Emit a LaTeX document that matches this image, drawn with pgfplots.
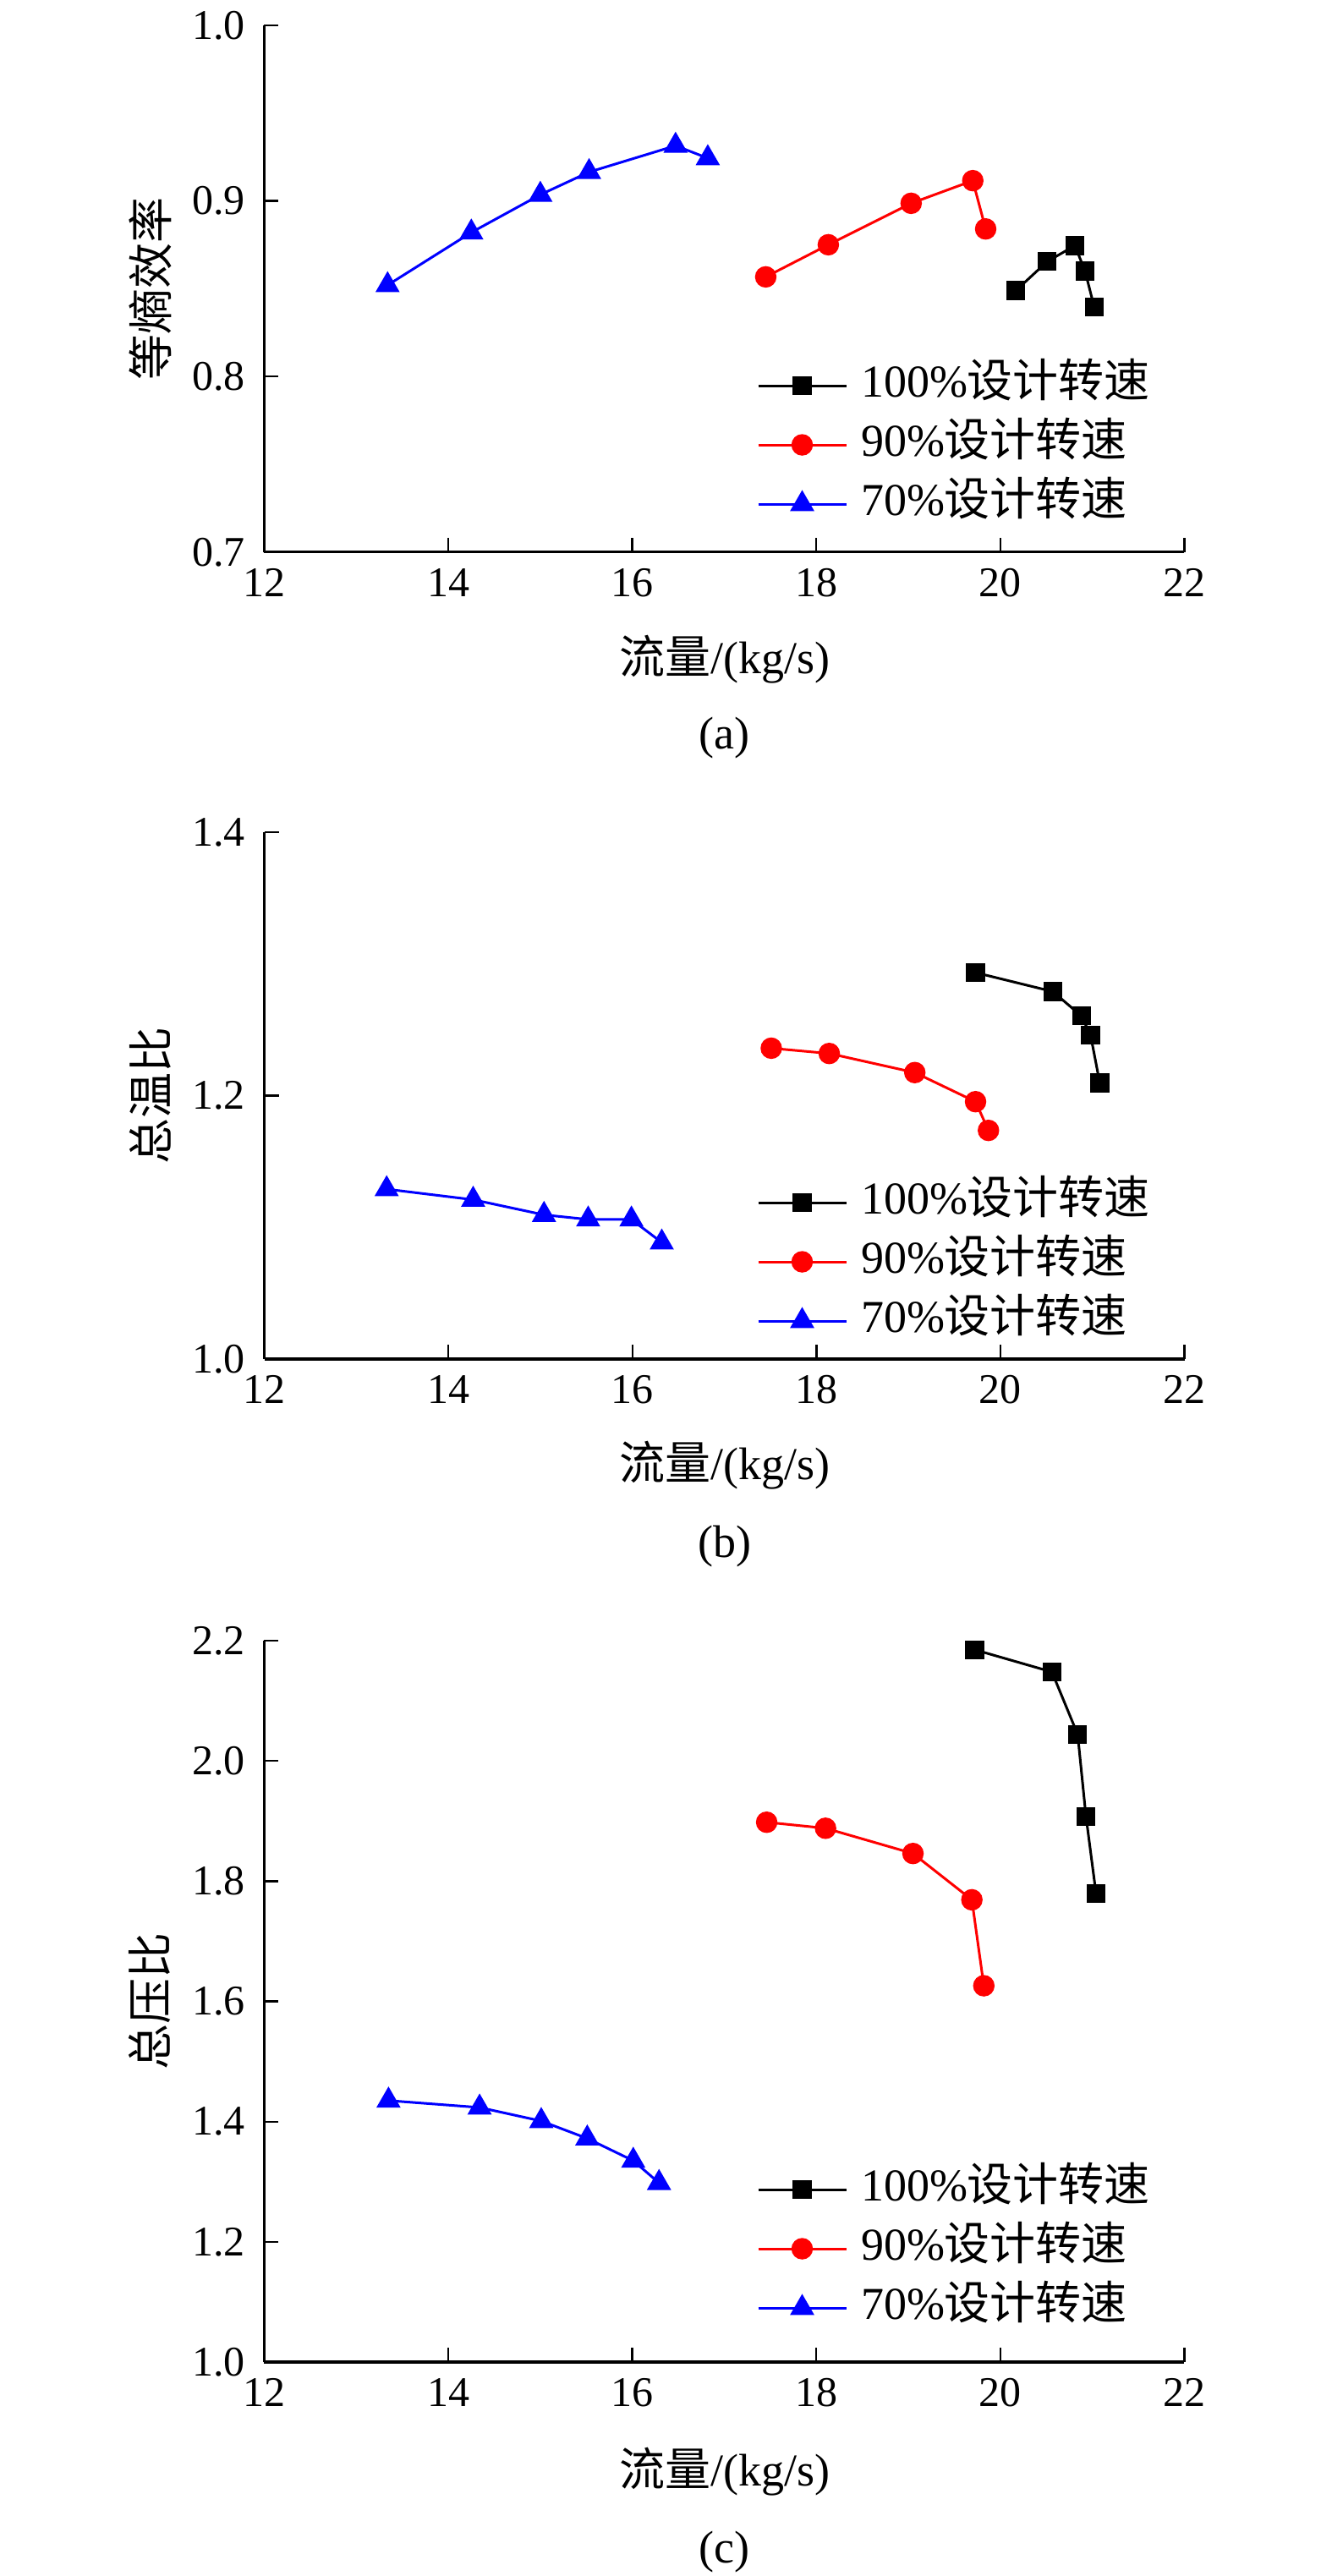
\documentclass[border=0pt]{standalone}
\usepackage{fontspec}
\setmainfont{Liberation Serif}
\newfontfamily\cjk{Noto Sans CJK SC}
\usepackage{pgfplots}
\pgfplotsset{compat=1.18}

\pgfplotsset{
  myaxis/.style={
    scale only axis, width=272pt,
    xmin=12, xmax=22, xtick={12,14,16,18,20,22},
    axis x line*=bottom, axis y line*=left,
    axis line style={line width=0.8pt},
    tick style={line width=0.6pt, black},
    major tick length=4.25pt,
    tick align=inside,
    /pgf/number format/assume math mode=true,
    ticklabel style={font=\fontsize{12.5}{14}\selectfont},
    yticklabel style={/pgf/number format/.cd, fixed, fixed zerofill, precision=1, /tikz/.cd, xshift=-2.2pt},
    xticklabel style={yshift=-1.3pt},
    label style={font=\fontsize{13.5}{16}\selectfont},
    xlabel={{\cjk 流量}/(kg/s)},
    clip=false,
    legend style={draw=none, fill=none, inner sep=0pt, outer sep=0pt,
      font=\fontsize{13.5}{16}\selectfont,
      nodes={inner sep=0pt, text height=10pt, text depth=3.5pt},
      /tikz/column sep=4pt, /tikz/row sep=4pt, anchor=south west},
    legend cell align=left,
    legend image code/.code={\draw[mark repeat=2,mark phase=2,#1] plot coordinates {(0pt,0pt)(13pt,0pt)(26pt,0pt)};},
  },
  s100/.style={black, line width=0.75pt, mark=square*, mark size=2.4pt, mark options={solid, fill=black}},
  s90/.style={red, line width=0.75pt, mark=*, mark size=2.8pt, mark options={solid, fill=red}},
  s70/.style={blue, line width=0.75pt, mark=triangle*, mark size=3.4pt, mark options={solid, fill=blue}},
}

\begin{document}
\begin{tikzpicture}
\useasboundingbox (0,0) rectangle (393.75pt,-761.5pt);

% ---------------- (a)
\begin{axis}[myaxis, at={(78.125pt,-163.2pt)}, anchor=south west,
  height=155.75pt, ymin=0.7, ymax=1.0, ytick={0.7,0.8,0.9,1.0},
  ylabel={\cjk 等熵效率},
  ylabel style={at={(axis description cs:-0.1241,0.5)}, anchor=center},
  xlabel style={at={(axis description cs:0.5,-0.2042)}, anchor=center},
  legend style={at={(axis description cs:0.5354,0.0478)}}]
\addplot[s100] coordinates {(20.17,0.849) (20.51,0.8655) (20.81,0.8745) (20.92,0.860) (21.02,0.8395)};
\addplot[s90] coordinates {(17.45,0.8567) (18.13,0.875) (19.03,0.8986) (19.70,0.9115) (19.84,0.884)};
\addplot[s70] coordinates {(13.34,0.852) (14.25,0.882) (15.00,0.9035) (15.53,0.9164) (16.47,0.9314) (16.82,0.9243)};
\legend{100\%{\cjk 设计转速}, 90\%{\cjk 设计转速}, 70\%{\cjk 设计转速}}
\node[font=\fontsize{13.5}{16}\selectfont] at (axis description cs:0.5,-0.3525) {(a)};
\end{axis}

% ---------------- (b)
\begin{axis}[myaxis, at={(78.125pt,-401.75pt)}, anchor=south west,
  height=155.75pt, ymin=1.0, ymax=1.4, ytick={1.0,1.2,1.4},
  ylabel={\cjk 总温比},
  ylabel style={at={(axis description cs:-0.1241,0.5)}, anchor=center},
  xlabel style={at={(axis description cs:0.5,-0.2022)}, anchor=center},
  legend style={at={(axis description cs:0.5354,0.0289)}}]
\addplot[s100] coordinates {(19.73,1.2934) (20.57,1.279) (20.88,1.2605) (20.98,1.246) (21.08,1.2097)};
\addplot[s90] coordinates {(17.51,1.236) (18.14,1.232) (19.07,1.2175) (19.73,1.1954) (19.87,1.1736)};
\addplot[s70] coordinates {(13.33,1.129) (14.27,1.121) (15.04,1.1095) (15.52,1.106) (15.99,1.106) (16.32,1.0885)};
\legend{100\%{\cjk 设计转速}, 90\%{\cjk 设计转速}, 70\%{\cjk 设计转速}}
\node[font=\fontsize{13.5}{16}\selectfont] at (axis description cs:0.5,-0.3547) {(b)};
\end{axis}

% ---------------- (c)
\begin{axis}[myaxis, at={(78.125pt,-698.25pt)}, anchor=south west,
  height=213.25pt, ymin=1.0, ymax=2.2, ytick={1.0,1.2,1.4,1.6,1.8,2.0,2.2},
  ylabel={\cjk 总压比},
  ylabel style={at={(axis description cs:-0.1241,0.5)}, anchor=center},
  xlabel style={at={(axis description cs:0.5,-0.1524)}, anchor=center},
  legend style={at={(axis description cs:0.5354,0.0434)}}]
\addplot[s100] coordinates {(19.72,2.185) (20.56,2.148) (20.84,2.044) (20.93,1.908) (21.04,1.779)};
\addplot[s90] coordinates {(17.46,1.898) (18.10,1.888) (19.05,1.846) (19.69,1.769) (19.82,1.626)};
\addplot[s70] coordinates {(13.35,1.435) (14.34,1.4235) (15.01,1.401) (15.51,1.372) (16.01,1.335) (16.29,1.298)};
\legend{100\%{\cjk 设计转速}, 90\%{\cjk 设计转速}, 70\%{\cjk 设计转速}}
\node[font=\fontsize{13.5}{16}\selectfont] at (axis description cs:0.5,-0.2626) {(c)};
\end{axis}
\end{tikzpicture}
\end{document}
